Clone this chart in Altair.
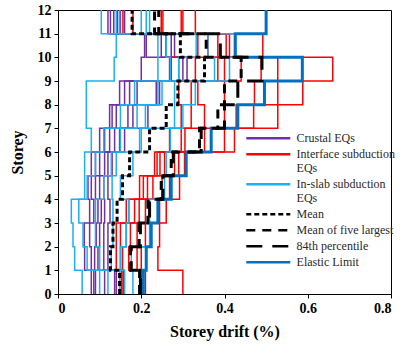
import altair as alt
import pandas as pd

# Storey index 1..12 (values = storey drift in %, storey k spans k-1..k)
storeys = list(range(1, 13))

categories = ["Crustal EQs", "Interface subduction EQs", "In-slab subduction EQs",
              "Mean", "Mean of five largest", "84th percentile", "Elastic Limit"]
colors = ["#7030A0", "#FF0000", "#1CB0F0", "#000000", "#000000", "#000000", "#0070C0"]
dashes = [[1, 0], [1, 0], [1, 0], [5, 3], [9, 7], [16, 10], [1, 0]]

# Crustal EQs (purple)
crustal = [
    [0.080, 0.064, 0.063, 0.076, 0.072, 0.080, 0.100, 0.124, 0.148, 0.200, 0.208, 0.120],
    [0.086, 0.080, 0.076, 0.086, 0.080, 0.090, 0.112, 0.130, 0.160, 0.268, 0.212, 0.126],
    [0.090, 0.088, 0.092, 0.096, 0.090, 0.100, 0.124, 0.140, 0.172, 0.272, 0.248, 0.134],
    [0.112, 0.096, 0.100, 0.104, 0.100, 0.112, 0.136, 0.168, 0.190, 0.290, 0.260, 0.143],
    [0.136, 0.110, 0.110, 0.112, 0.110, 0.120, 0.148, 0.180, 0.236, 0.300, 0.272, 0.150],
    [0.140, 0.120, 0.120, 0.125, 0.120, 0.130, 0.160, 0.216, 0.244, 0.310, 0.280, 0.160],
]

# Interface subduction EQs (red)
interface = [
    [0.152, 0.140, 0.140, 0.164, 0.196, 0.232, 0.268, 0.296, 0.290, 0.330, 0.260, 0.156],
    [0.156, 0.150, 0.150, 0.170, 0.205, 0.238, 0.296, 0.320, 0.320, 0.384, 0.336, 0.180],
    [0.158, 0.155, 0.164, 0.184, 0.215, 0.245, 0.305, 0.352, 0.336, 0.400, 0.360, 0.248],
    [0.200, 0.170, 0.174, 0.195, 0.228, 0.256, 0.352, 0.400, 0.400, 0.440, 0.384, 0.252],
    [0.204, 0.190, 0.190, 0.210, 0.250, 0.280, 0.368, 0.428, 0.472, 0.488, 0.404, 0.296],
    [0.210, 0.200, 0.210, 0.244, 0.268, 0.290, 0.400, 0.470, 0.528, 0.528, 0.412, 0.300],
    [0.300, 0.240, 0.244, 0.260, 0.292, 0.304, 0.424, 0.528, 0.588, 0.660, 0.492, 0.330],
]

# In-slab subduction EQs (light blue)
inslab = [
    [0.058, 0.040, 0.036, 0.032, 0.064, 0.064, 0.080, 0.068, 0.068, 0.135, 0.140, 0.104],
    [0.100, 0.070, 0.060, 0.050, 0.070, 0.090, 0.110, 0.150, 0.184, 0.240, 0.240, 0.140],
    [0.120, 0.100, 0.090, 0.090, 0.110, 0.128, 0.150, 0.190, 0.240, 0.270, 0.260, 0.148],
    [0.148, 0.128, 0.132, 0.132, 0.130, 0.140, 0.196, 0.210, 0.250, 0.290, 0.332, 0.200],
    [0.160, 0.150, 0.164, 0.170, 0.150, 0.180, 0.200, 0.280, 0.280, 0.376, 0.360, 0.212],
    [0.180, 0.176, 0.220, 0.220, 0.256, 0.260, 0.270, 0.300, 0.330, 0.412, 0.424, 0.220],
]

mean = [0.148, 0.126, 0.132, 0.142, 0.155, 0.172, 0.220, 0.260, 0.288, 0.352, 0.294, 0.178]
mean_five = [0.196, 0.174, 0.195, 0.216, 0.248, 0.272, 0.340, 0.384, 0.400, 0.440, 0.356, 0.232]
p84 = [0.198, 0.176, 0.198, 0.220, 0.252, 0.277, 0.344, 0.400, 0.432, 0.490, 0.390, 0.242]
elastic = [0.205, 0.212, 0.224, 0.240, 0.272, 0.308, 0.368, 0.432, 0.496, 0.587, 0.426, 0.500]


def profile_rows(pid, series, vals, width):
    rows = []
    for k, v in zip(storeys, vals):
        rows.append({"id": pid, "series": series, "drift": v, "storey": k - 1, "ord": 2 * k, "w": width})
        rows.append({"id": pid, "series": series, "drift": v, "storey": k, "ord": 2 * k + 1, "w": width})
    return rows


records = []
for i, p in enumerate(crustal):
    records += profile_rows(f"c{i}", "Crustal EQs", p, 1.5)
for i, p in enumerate(interface):
    records += profile_rows(f"r{i}", "Interface subduction EQs", p, 1.5)
for i, p in enumerate(inslab):
    records += profile_rows(f"s{i}", "In-slab subduction EQs", p, 1.5)
ground = pd.DataFrame(records)

elastic_df = pd.DataFrame(profile_rows("el", "Elastic Limit", elastic, 3))
stats_df = pd.DataFrame(
    profile_rows("mean", "Mean", mean, 3)
    + profile_rows("m5", "Mean of five largest", mean_five, 3)
    + profile_rows("p84", "84th percentile", p84, 3)
)

label_expr = ("datum.label == 'Interface subduction EQs' ? ['Interface subduction', 'EQs'] : "
              "datum.label == 'In-slab subduction EQs' ? ['In-slab subduction', 'EQs'] : datum.label")

legend = alt.Legend(
    title=None, orient="none", legendX=200.3, legendY=118.3,
    labelExpr=label_expr, labelFont="Liberation Serif", labelFontSize=12,
    labelColor="#2a2a2a", symbolType="M-2.54,0H2.54", symbolSize=300,
    symbolStrokeWidth=2.5, rowPadding=0, labelOffset=18.3, padding=0,
)

x_enc = alt.X("drift:Q", scale=alt.Scale(domain=[0, 0.8], nice=False),
              axis=alt.Axis(values=[0, 0.2, 0.4, 0.6, 0.8], format="~g", title="Storey drift (%)"))
y_enc = alt.Y("storey:Q", scale=alt.Scale(domain=[0, 12], nice=False),
              axis=alt.Axis(values=list(range(0, 13)), title="Storey"))
color_enc = alt.Color("series:N", scale=alt.Scale(domain=categories, range=colors), legend=legend)
dash_enc = alt.StrokeDash("series:N", scale=alt.Scale(domain=categories, range=dashes), legend=legend)


def layer(df):
    return alt.Chart(df).mark_line(strokeCap="butt").encode(
        x=x_enc, y=y_enc, color=color_enc, strokeDash=dash_enc,
        strokeWidth=alt.StrokeWidth("w:Q", scale=None),
        detail="id:N", order="ord:Q",
    )


chart = alt.layer(layer(ground), layer(elastic_df), layer(stats_df)).properties(
    width=333, height=284,
    padding={"left": 58, "top": 10, "right": 14, "bottom": 55},
    autosize="none",
).configure_view(stroke="black", strokeWidth=1).configure_axis(
    grid=False, domainColor="black", tickColor="black", tickSize=4,
    labelFont="Liberation Serif", labelFontWeight="bold", labelFontSize=14, labelColor="black",
    titleFont="Liberation Serif", titleFontWeight="bold", titleFontSize=16, titleColor="black",
    labelPadding=3,
).configure_axisX(titlePadding=8).configure_axisY(titlePadding=12)

chart.save("out.html", embed_options={"renderer": "svg", "actions": False})
